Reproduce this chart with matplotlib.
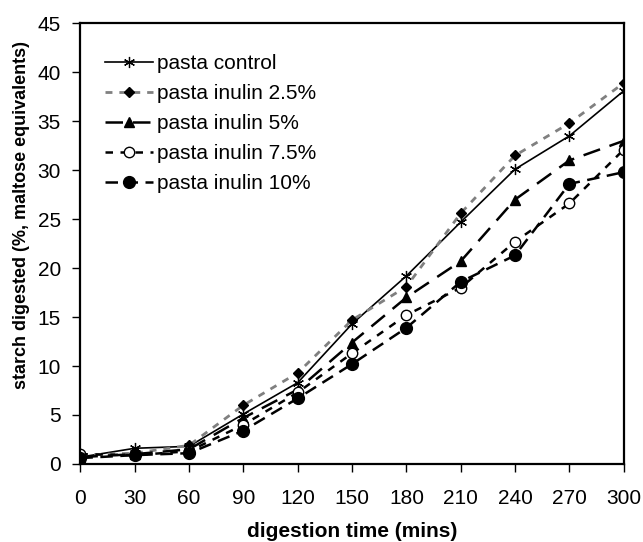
import matplotlib.pyplot as plt

plt.rcParams['font.family'] = ['Liberation Sans', 'DejaVu Sans']

# digestion time (mins)
time = [0, 30, 60, 90, 120, 150, 180, 210, 240, 270, 300]

# starch digested (%, maltose equivalents)
control = [0.7, 1.6, 1.8, 5.1, 8.3, 14.3, 19.2, 24.7, 30.1, 33.5, 38.1]
inulin_2_5 = [0.9, 1.1, 1.9, 6.0, 9.3, 14.7, 18.1, 25.6, 31.5, 34.8, 38.9]
inulin_5 = [0.7, 1.0, 1.5, 4.7, 7.6, 12.4, 17.0, 20.7, 27.0, 31.0, 33.0]
inulin_7_5 = [1.0, 0.9, 1.3, 4.0, 7.3, 11.3, 15.2, 18.0, 22.7, 26.6, 32.1]
inulin_10 = [0.6, 0.9, 1.1, 3.4, 6.7, 10.2, 13.9, 18.6, 21.3, 28.6, 29.8]

fig = plt.figure(figsize=(6.43, 5.42), dpi=100)
ax = fig.add_axes([0.125, 0.144, 0.845, 0.813])

ax.plot(time, control, color='black', lw=1.2, marker=(6, 2, 0), ms=8,
        mew=0.9, label='pasta control')
ax.plot(time, inulin_2_5, color='#808080', lw=2.0, ls=(0, (2.5, 2.5)),
        marker='D', ms=5.5, mfc='black', mec='black', label='pasta inulin 2.5%')
ax.plot(time, inulin_5, color='black', lw=1.8, ls=(0, (7, 4)),
        marker='^', ms=7, label='pasta inulin 5%')
ax.plot(time, inulin_7_5, color='black', lw=1.8, ls=(0, (3, 3)),
        marker='o', ms=7.5, mfc='white', mec='black', mew=1.0, label='pasta inulin 7.5%')
ax.plot(time, inulin_10, color='black', lw=1.8, ls=(0, (5, 3)),
        marker='o', ms=8.5, mfc='black', label='pasta inulin 10%')

ax.set_xlim(0, 300)
ax.set_ylim(0, 45)
ax.set_xticks(time)
ax.set_yticks(range(0, 46, 5))
ax.tick_params(direction='out', length=6, width=1, labelsize=15)
ax.tick_params(axis='x', pad=12)
ax.tick_params(axis='y', pad=8)
for s in ax.spines.values():
    s.set_linewidth(1.6)

ax.set_xlabel('digestion time (mins)', fontsize=15, fontweight='bold', labelpad=10)
ax.set_ylabel('starch digested (%, maltose equivalents)', fontsize=13,
              fontweight='bold', labelpad=2)
ax.yaxis.set_label_coords(-0.093, 0.565)

ax.legend(loc='upper left', bbox_to_anchor=(0.045, 0.93), frameon=False, fontsize=15,
          handlelength=2.3, handletextpad=0.2, labelspacing=0.53,
          borderaxespad=0, borderpad=0)

fig.savefig('out.png', dpi=100)
